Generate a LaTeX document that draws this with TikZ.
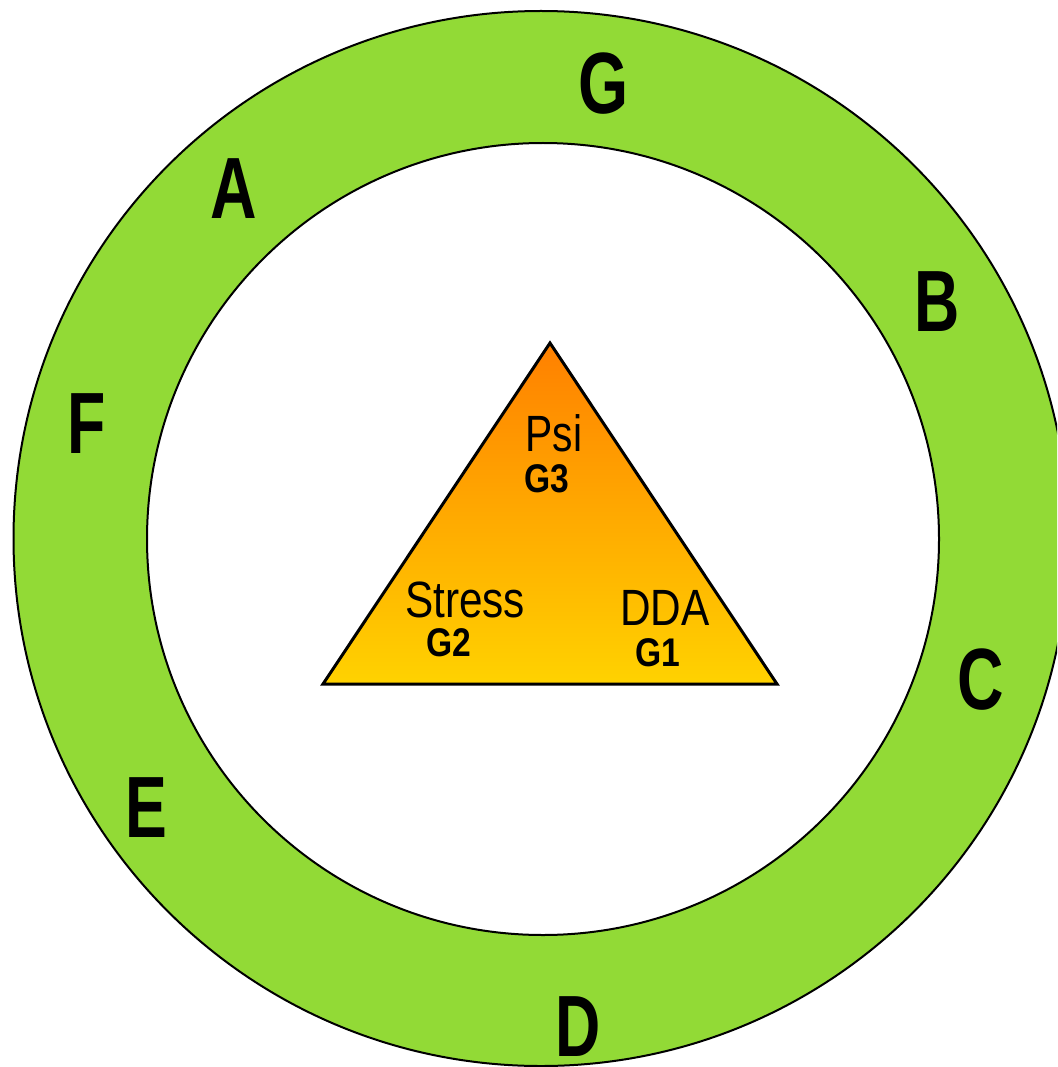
\documentclass[tikz,border=0pt]{standalone}
\usepackage{fontspec}
\setmainfont{Liberation Sans}
\definecolor{ringgreen}{RGB}{146,218,54}
\definecolor{triorange}{RGB}{255,128,0}
\definecolor{triyellow}{RGB}{255,210,0}
\newcommand{\narrowtxt}[2]{\scalebox{#1}[1]{#2}}
\begin{document}
\begin{tikzpicture}[x=1pt,y=-1pt,
  ringlabel/.style={inner sep=0pt, font=\fontsize{87}{87}\selectfont\bfseries},
  trilabel/.style={inner sep=0pt, font=\fontsize{51}{51}\selectfont},
  trisub/.style={inner sep=0pt, font=\fontsize{40}{40}\selectfont\bfseries},
  ringline/.style={line width=2pt, draw=black}]
\useasboundingbox (0,0) rectangle (1057,1067);
\clip (0,0) rectangle (1057,1067);
% ring
\fill[ringgreen] (541,538.5) circle (527.5);
\draw[ringline] (541,538.5) circle (527.5);
\fill[white] (543,539) circle (396);
\draw[ringline] (543,539) circle (396);
% triangle
\coordinate (apex) at (550,343);
\coordinate (bl) at (323,684);
\coordinate (br) at (777,684);
\shade[top color=triorange, bottom color=triyellow] (apex) -- (br) -- (bl) -- cycle;
\draw[line width=3pt, line join=miter] (apex) -- (br) -- (bl) -- cycle;
% ring labels
\node[ringlabel] (G) at (604,84) {\narrowtxt{0.74}{G}};
\node[ringlabel] (A) at (234,188.5) {\narrowtxt{0.74}{A}};
\node[ringlabel] (B) at (937,302) {\narrowtxt{0.72}{B}};
\node[ringlabel] (F) at (86.5,423.5) {\narrowtxt{0.72}{F}};
\node[ringlabel] (C) at (981,680) {\narrowtxt{0.74}{C}};
\node[ringlabel] (E) at (146,808) {\narrowtxt{0.72}{E}};
\node[ringlabel] (D) at (578,1026.5) {\narrowtxt{0.72}{D}};
% triangle labels
\node[trilabel] (psi) at (554,433.5) {\narrowtxt{0.8}{Psi}};
\node[trisub] (g3) at (547,479) {\narrowtxt{0.84}{G3}};
\node[trilabel] (stress) at (465,599.5) {\narrowtxt{0.83}{Stress}};
\node[trisub] (g2) at (449,643) {\narrowtxt{0.84}{G2}};
\node[trilabel] (dda) at (665,607.5) {\narrowtxt{0.83}{DDA}};
\node[trisub] (g1) at (658,653) {\narrowtxt{0.84}{G1}};
\end{tikzpicture}
\end{document}
